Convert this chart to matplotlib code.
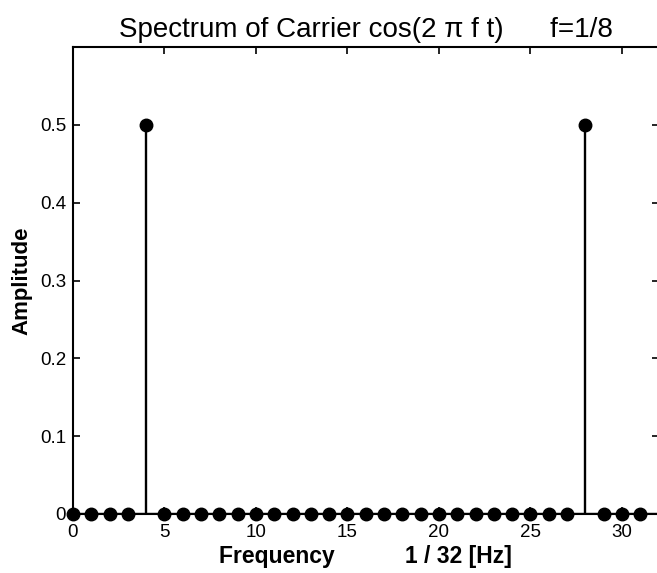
import matplotlib
matplotlib.use("Agg")
import matplotlib.pyplot as plt
import numpy as np

# Spectrum samples of the carrier (N = 32 bins)
freq_bins = list(range(32))
amplitude = [0.0, 0.0, 0.0, 0.0, 0.5, 0.0, 0.0, 0.0,
             0.0, 0.0, 0.0, 0.0, 0.0, 0.0, 0.0, 0.0,
             0.0, 0.0, 0.0, 0.0, 0.0, 0.0, 0.0, 0.0,
             0.0, 0.0, 0.0, 0.0, 0.5, 0.0, 0.0, 0.0]
x_ticks = [0, 5, 10, 15, 20, 25, 30]
y_ticks = [0, 0.1, 0.2, 0.3, 0.4, 0.5]
y_ticklabels = ["0", "0.1", "0.2", "0.3", "0.4", "0.5"]

plt.rcParams['font.family'] = ['Liberation Sans', 'DejaVu Sans']
narrow = ['Liberation Sans Narrow', 'Liberation Sans', 'DejaVu Sans']

fig = plt.figure(figsize=(6.57, 5.73), dpi=100)
ax = fig.add_axes([73 / 657, 1 - 514 / 573, 585.5 / 657, 467 / 573])

# stems + baseline
markerline, stemlines, baseline = ax.stem(freq_bins, amplitude, linefmt='k-',
                                          markerfmt='ko', basefmt='k-')
plt.setp(stemlines, linewidth=1.7)
plt.setp(markerline, markersize=9, clip_on=False, zorder=4)
baseline.set_visible(False)
ax.axhline(0, color='k', linewidth=1.7, zorder=1)

ax.set_xlim(0, 32)
ax.set_ylim(0, 0.6)
ax.set_xticks(x_ticks)
ax.set_xticklabels([str(v) for v in x_ticks], family=narrow, fontsize=13.5)
ax.set_yticks(y_ticks)
ax.set_yticklabels(y_ticklabels, family=narrow, fontsize=13.5)

# matlab style box with inward ticks on all sides
ax.tick_params(direction='in', length=5, width=1.2, top=True, right=True)
ax.tick_params(axis='y', pad=5)
ax.tick_params(axis='x', pad=7)
for s in ax.spines.values():
    s.set_linewidth(1.5)

ax.set_title("Spectrum of Carrier cos(2 \u03c0 f t)      f=1/8", fontsize=20, pad=7)
ax.set_xlabel("Frequency           1 / 32 [Hz]", fontsize=16.5, fontweight='bold',
              labelpad=3)
ax.set_ylabel("Amplitude", fontsize=16, fontweight='bold', labelpad=5)

fig.savefig("out.png", dpi=100)
